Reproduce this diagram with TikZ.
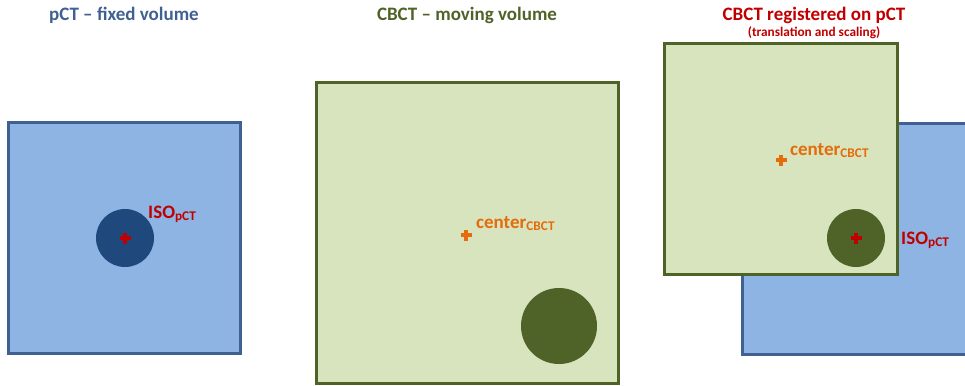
\documentclass[tikz,border=0pt]{standalone}
\usepackage{fontspec}
\setmainfont{Carlito}
\definecolor{pctblue}{HTML}{8EB4E3}
\definecolor{pctedge}{HTML}{3F6091}
\definecolor{pctdark}{HTML}{1F497D}
\definecolor{cbfill}{HTML}{D7E4BD}
\definecolor{cbedge}{HTML}{4F6228}
\definecolor{isored}{HTML}{C00000}
\definecolor{cenorange}{HTML}{E46C0A}
\tikzset{
  pctbox/.style={draw=pctedge, fill=pctblue, line width=3pt, inner sep=0pt},
  cbbox/.style={draw=cbedge, fill=cbfill, line width=3pt, inner sep=0pt},
  ball/.style={circle, inner sep=0pt},
  title/.style={font=\bfseries\fontsize{19}{21}\selectfont, anchor=base},
  lab/.style={font=\bfseries\fontsize{19}{21}\selectfont, anchor=base west, inner sep=0pt},
  crossline/.style={line width=3.3pt},
}
\newcommand{\plusmark}[2]{\draw[crossline,#2] ($(#1)+(-5.5,0)$) -- ($(#1)+(5.5,0)$); \draw[crossline,#2] ($(#1)+(0,-5.5)$) -- ($(#1)+(0,5.5)$);}
\usetikzlibrary{calc}
\begin{document}
\begin{tikzpicture}[x=1pt,y=-1pt]
\useasboundingbox (0,0) rectangle (965,385);
\begin{scope}
\clip (0,0) rectangle (965,385);
% titles
\node[title, text=pctedge] (t1) at (124,21) {pCT – fixed volume};
\node[title, text=cbedge] (t2) at (467,21) {CBCT – moving volume};
\node[title, text=isored] (t3) at (814,21) {CBCT registered on pCT};
\node[anchor=base, text=isored, font=\bfseries\fontsize{13.3}{15}\selectfont] (t4) at (814,37) {(translation and scaling)};
% left panel
\node[pctbox, minimum width=232pt, minimum height=231pt] (b1) at (124,237.5) {};
\node[ball, fill=pctdark, minimum size=58pt] (s1) at (125,238) {};
\coordinate (x1) at (125,238);
\plusmark{x1}{isored}
\node[lab, text=isored] (l1) at (148,218) {ISO\textsubscript{pCT}};
% middle panel
\node[cbbox, minimum width=302pt, minimum height=300pt] (b2) at (467,233) {};
\node[ball, fill=cbedge, minimum size=76pt] (s2) at (559,326) {};
\coordinate (x2) at (466,235);
\plusmark{x2}{cenorange}
\node[lab, text=cenorange] (l2) at (476,228) {center\textsubscript{CBCT}};
% right panel
\node[pctbox, minimum width=260pt, minimum height=231pt, anchor=north west] (b3) at (741,122) {};
\node[cbbox, minimum width=233pt, minimum height=230pt] (b4) at (780.5,159) {};
\node[ball, fill=cbedge, minimum size=58pt] (s3) at (856,238) {};
\coordinate (x3) at (856,238);
\plusmark{x3}{isored}
\coordinate (x4) at (781,160);
\plusmark{x4}{cenorange}
\node[lab, text=cenorange] (l3) at (790,155) {center\textsubscript{CBCT}};
\node[lab, text=isored] (l4) at (901,244) {ISO\textsubscript{pCT}};
\end{scope}
\end{tikzpicture}
\end{document}
